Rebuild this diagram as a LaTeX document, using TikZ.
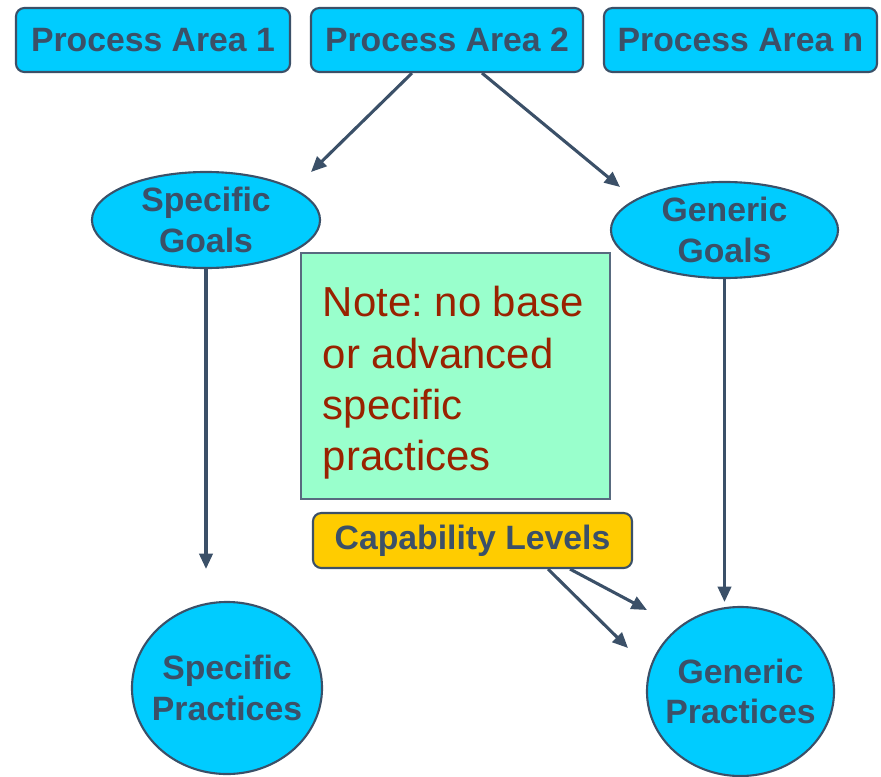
\documentclass[tikz,border=0pt]{standalone}
\usepackage{fontspec}
\setmainfont{Liberation Sans}
\frenchspacing
\usepackage{tikz}
\usetikzlibrary{calc, shapes, arrows.meta, positioning}
\definecolor{paCyan}{HTML}{00CCFF}
\definecolor{edgeSlate}{HTML}{3B5068}
\definecolor{noteMint}{HTML}{99FFCC}
\definecolor{noteRed}{HTML}{992200}
\definecolor{capYellow}{HTML}{FFCC00}
\tikzset{
    area/.style = {rectangle, rounded corners=6pt, draw=edgeSlate, line width=1.5pt, fill=paCyan,
        text=edgeSlate, font=\bfseries\fontsize{24}{29}\selectfont, minimum height=1.6cm, inner sep=0pt},
    goal/.style = {ellipse, draw=edgeSlate, line width=1.5pt, fill=paCyan, text=edgeSlate,
        font=\bfseries\fontsize{24}{29}\selectfont, align=center, inner sep=0pt},
    bubble/.style = {ellipse, draw=edgeSlate, line width=1.5pt, fill=paCyan, inner sep=0pt},
    bubbletext/.style = {text=edgeSlate, font=\bfseries\fontsize{24}{29}\selectfont, align=center, inner sep=0pt},
    note/.style = {rectangle, draw=edgeSlate!85!white, line width=1.2pt, fill=noteMint, inner sep=0pt},
    notetext/.style = {text=noteRed, font=\fontsize{29.8}{36.5}\selectfont, align=flush left,
        text width=6.725cm, inner sep=0pt},
    level/.style = {rectangle, rounded corners=6pt, draw=edgeSlate, line width=1.5pt, fill=capYellow,
        text=edgeSlate, font=\bfseries\fontsize{24}{29}\selectfont, inner sep=0pt},
    link/.style = {draw=edgeSlate, line width=2.2pt, -{Triangle[length=11pt, width=9.5pt]}}
}
\begin{document}
\begin{tikzpicture}[x=0.025cm, y=-0.025cm]
    \useasboundingbox (0,0) rectangle (881,776);
    % process areas
    \node [area, minimum width=6.85cm] (pa1) at (153,40) {Process Area 1};
    \node [area, minimum width=6.8cm] (pa2) at (447,40) {Process Area 2};
    \node [area, minimum width=6.825cm] (pan) at (740.5,40) {Process Area n};
    % goals
    \node [goal, minimum width=5.7cm, minimum height=2.4cm] (sg) at (206,220) {Specific\\Goals};
    \node [goal, minimum width=5.675cm, minimum height=2.4cm] (gg) at (724.5,230) {Generic\\Goals};
    % practices
    \node [bubble, minimum width=4.75cm, minimum height=4.3cm] (sp) at (227,688) {};
    \node [bubbletext] (spText) at (sp) {Specific\\Practices};
    \node [bubble, minimum width=4.675cm, minimum height=4.225cm] (gp) at (740.5,691.5) {};
    \node [bubbletext] (gpText) at (gp) {Generic\\Practices};
    % note and capability levels
    \node [note, minimum width=7.725cm, minimum height=6.15cm] (nb) at (455.5,376) {};
    \node [notetext] (nbText) at ($(nb)+(2,7)$) {Note: no base\\or advanced\\specific\\practices};
    \node [level, minimum width=7.975cm, minimum height=1.375cm] (cl) at (472.5,540.5) {Capability Levels};
    % arrow ends
    \coordinate (sgIn) at (311,172);
    \coordinate (ggIn) at (620,187);
    \coordinate (spIn) at (206,569);
    \coordinate (gpIn) at (724.5,602);
    \coordinate (gpInA) at (647,610);
    \coordinate (gpInB) at (628,648);
    \draw [link] ($(pa2.south)+(-35,0)$) -- (sgIn);
    \draw [link] ($(pa2.south)+(35,0)$) -- (ggIn);
    \draw [link] (sg.south) -- (spIn);
    \draw [link] (gg.south) -- (gpIn);
    \draw [link] ($(cl.south)+(97.5,0)$) -- (gpInA);
    \draw [link] ($(cl.south)+(75.5,0)$) -- (gpInB);
\end{tikzpicture}
\end{document}
